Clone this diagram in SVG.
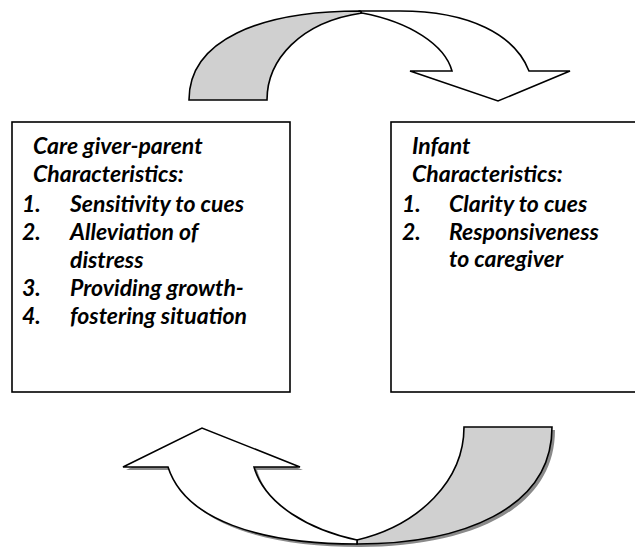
<svg xmlns="http://www.w3.org/2000/svg" width="635" height="548" viewBox="0 0 635 548">
  <style>
    .box { fill: #ffffff; stroke: #000000; stroke-width: 1.6; }
    .band { fill: #ffffff; stroke: #000000; stroke-width: 1.6; stroke-linejoin: miter; }
    .back { fill: #d0d0d0; stroke: #000000; stroke-width: 1.6; }
    .shadow { fill: #8a8a8a; stroke: none; }
    .t { font-family: "Lato", "Open Sans", "Liberation Sans", sans-serif; font-weight: bold; font-style: italic; font-size: 23px; fill: #000000; }
  </style>

  <!-- caregiver / parent box -->
  <g id="caregiver">
    <rect class="box" x="12" y="122" width="278" height="270"/>
    <text class="t" x="33" y="154">Care giver-parent</text>
    <text class="t" x="33" y="182">Characteristics:</text>
    <text class="t" x="22" y="212">1.</text>
    <text class="t" x="70" y="212">Sensitivity to cues</text>
    <text class="t" x="22" y="240">2.</text>
    <text class="t" x="70" y="240">Alleviation of</text>
    <text class="t" x="70" y="268">distress</text>
    <text class="t" x="22" y="296">3.</text>
    <text class="t" x="70" y="296">Providing growth-</text>
    <text class="t" x="22" y="324">4.</text>
    <text class="t" x="70" y="324">fostering situation</text>
  </g>

  <!-- infant box (runs past the right edge) -->
  <g id="infant">
    <rect class="box" x="391" y="122" width="260" height="270"/>
    <text class="t" x="412" y="154">Infant</text>
    <text class="t" x="412" y="182">Characteristics:</text>
    <text class="t" x="402" y="212">1.</text>
    <text class="t" x="449" y="212">Clarity to cues</text>
    <text class="t" x="402" y="240">2.</text>
    <text class="t" x="449" y="240">Responsiveness</text>
    <text class="t" x="449" y="267">to caregiver</text>
  </g>

  <g id="connectors">
    <!-- upper curved arrow: caregiver to infant -->
    <g id="arrow-top">
      <path class="back" d="M189,100 C189,40 260,11 360,11 L362,13 C300,22 267,60 267,100 Z"/>
      <path class="band" d="M360,11 L400,11 C470,11 515,35 529,71 L570,71 L498,101 L410,71 L452,71 C445,45 410,22 362,13 Z"/>
    </g>
    <!-- lower curved arrow: infant to caregiver -->
    <g id="arrow-bottom">
      <g transform="translate(3,3)">
        <path class="shadow" d="M123,467 L202,428 L300,467 L254,467 C265,505 310,530 357,540 C420,525 464,480 464,427 L552,427 C552,510 460,544 357,544 C260,544 185,520 168,467 Z"/>
      </g>
      <path class="back" d="M464,427 L552,427 C552,510 460,544 357,544 L357,540 C420,525 464,480 464,427 Z"/>
      <path class="band" d="M123,467 L202,428 L300,467 L254,467 C265,505 310,530 357,540 L357,544 C260,544 185,520 168,467 Z"/>
    </g>
  </g>
</svg>
